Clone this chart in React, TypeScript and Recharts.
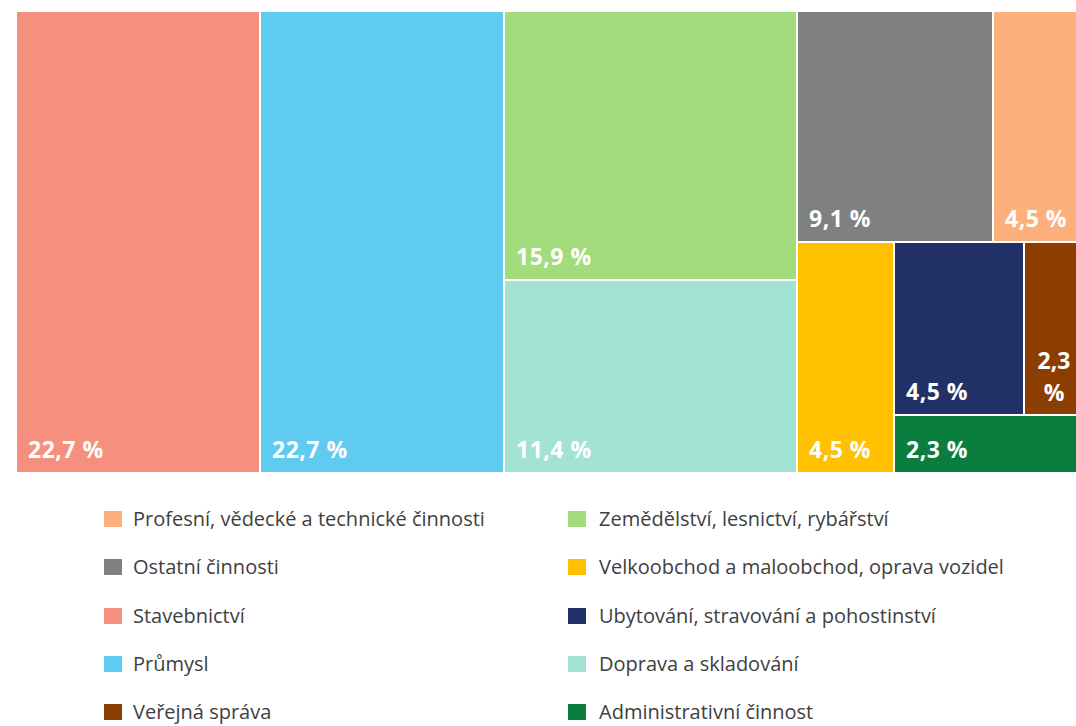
import React from "react";
import { Treemap } from "recharts";

const sectors = [
  "Stavebnictví",
  "Průmysl",
  "Zemědělství, lesnictví, rybářství",
  "Doprava a skladování",
  "Ostatní činnosti",
  "Profesní, vědecké a technické činnosti",
  "Velkoobchod a maloobchod, oprava vozidel",
  "Ubytování, stravování a pohostinství",
  "Veřejná správa",
  "Administrativní činnost",
];
const shares = [22.7, 22.7, 15.9, 11.4, 9.1, 4.5, 4.5, 4.5, 2.3, 2.3];
const colors = [
  "#F58F7E",
  "#5FCBF1",
  "#A2DC7D",
  "#A3E3D3",
  "#808080",
  "#FDB07C",
  "#FFC000",
  "#223068",
  "#8B3E00",
  "#0B7D3E",
];
// legend reads row by row, two columns
const legendOrder = [5, 2, 4, 6, 0, 7, 1, 3, 8, 9];
// grouping of sectors so the squarified layout comes out like the original
const grouping: any[] = [0, 1, [2, 3], [[4, 5], [6, [[7, 8], 9]]]];

const build = (g: any): any =>
  Array.isArray(g)
    ? { name: "group", children: g.map(build) }
    : { name: sectors[g], size: shares[g], idx: g };

const treeData = grouping.map(build);

const fmt = (v: number) => v.toFixed(1).replace(".", ",");

const Cell = (props: any) => {
  const { x, y, width, height, children, idx, size } = props;
  if (children && children.length) return null;
  if (idx === undefined) return null;
  const label = fmt(size);
  const narrow = width < 80;
  return (
    <g>
      <rect x={x} y={y} width={width} height={height} fill={colors[idx]} stroke="#fff" strokeWidth={2} />
      {narrow ? (
        <text
          x={x + width / 2 - 3}
          y={y + height - 46}
          fill="#fff"
          fontSize={23}
          fontWeight={700}
          textAnchor="middle"
          fontFamily="'Segoe UI', 'Open Sans', sans-serif"
        >
          <tspan x={x + width / 2 - 3}>{label}</tspan>
          <tspan x={x + width / 2 - 3} dy={32}>%</tspan>
        </text>
      ) : (
        <text
          x={x + 12}
          y={y + height - 15}
          fill="#fff"
          fontSize={23}
          fontWeight={700}
          letterSpacing={0.5}
          fontFamily="'Segoe UI', 'Open Sans', sans-serif"
        >
          {label} %
        </text>
      )}
    </g>
  );
};

export default function App() {
  return (
    <div
      style={{
        position: "fixed",
        left: 0,
        top: 0,
        width: 1076,
        height: 726,
        overflow: "hidden",
        background: "#fff",
        fontFamily: "'Segoe UI', 'Open Sans', sans-serif",
      }}
    >
      <div style={{ position: "absolute", left: 16, top: 11 }}>
        <Treemap
          width={1074}
          height={462}
          data={treeData}
          dataKey="size"
          aspectRatio={1}
          isAnimationActive={false}
          isUpdateAnimationActive={false}
          content={<Cell />}
        />
      </div>
      {legendOrder.map((idx, i) => {
        const row = Math.floor(i / 2);
        const col = i % 2;
        const top = 519 + row * 48.3;
        return (
          <div key={idx}>
            <div
              style={{
                position: "absolute",
                left: col ? 568 : 104,
                top: top - 8,
                width: 18,
                height: 16,
                background: colors[idx],
              }}
            />
            <div
              style={{
                position: "absolute",
                left: col ? 599 : 133,
                top: top - 14,
                height: 28,
                lineHeight: "28px",
                fontSize: 20,
                color: "#404040",
                whiteSpace: "nowrap",
              }}
            >
              {sectors[idx]}
            </div>
          </div>
        );
      })}
    </div>
  );
}
